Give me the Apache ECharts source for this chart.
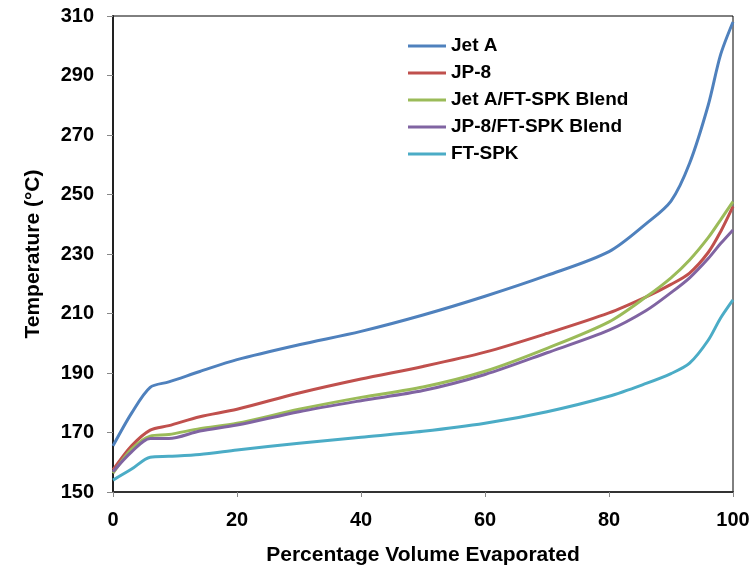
<!DOCTYPE html>
<html>
<head>
<meta charset="utf-8">
<script src="https://cdn.jsdelivr.net/npm/echarts@6/dist/echarts.min.js"></script>
<style>
  html, body { margin: 0; padding: 0; background: #fff; }
  #main { width: 752px; height: 566px; }
</style>
</head>
<body>
<div id="main"></div>
<script>
// percentage evaporated (x)
var pct = [0, 3, 6, 9, 14, 20, 30, 40, 50, 60, 70, 80, 86, 90, 93, 96, 98, 100];

// temperatures (°C)
var jetA      = [165.5, 176.5, 185.2, 187, 190.5, 194.5, 199.5, 204, 209.5, 215.8, 222.8, 230.8, 240.2, 247.8, 260.5, 280, 297, 308];
var jp8       = [157.4, 165.5, 170.8, 172.3, 175.3, 177.8, 183.3, 188, 192.2, 197, 203.3, 210.2, 215.6, 219.8, 223.6, 230.5, 237.5, 246];
var jetABlend = [156.3, 164.4, 168.8, 169.3, 171.3, 173.1, 177.8, 181.8, 185.3, 190.6, 198.3, 207.2, 215.6, 222, 228, 235.5, 241.5, 247.6];
var jp8Blend  = [156.8, 163.5, 168, 168, 170.5, 172.5, 177, 180.7, 184.1, 189.5, 196.8, 204.4, 211, 217, 222, 228.5, 233.5, 238.1];
var ftSpk     = [154, 157.7, 161.7, 162, 162.6, 164.1, 166.4, 168.4, 170.4, 173.1, 177, 182.2, 186.5, 189.8, 193.3, 201, 208.5, 214.6];

var names  = ['Jet A', 'JP-8', 'Jet A/FT-SPK Blend', 'JP-8/FT-SPK Blend', 'FT-SPK'];
var colors = ['#4F81BD', '#C0504D', '#9BBB59', '#8064A2', '#4BACC6'];
var values = [jetA, jp8, jetABlend, jp8Blend, ftSpk];

var font = '"Liberation Sans", Arial, sans-serif';

function pairs(ys) {
  return pct.map(function (x, i) { return [x, ys[i]]; });
}

var chart = echarts.init(document.getElementById('main'));

var option = {
  backgroundColor: '#fff',
  animation: false,
  grid: {
    left: 113, top: 16, right: 19, bottom: 74,
    outerBoundsMode: 'none',
    show: true, borderColor: '#000', borderWidth: 1
  },
  legend: {
    orient: 'vertical',
    left: 403, top: 31,
    icon: 'rect',
    itemWidth: 38, itemHeight: 3, itemGap: 7,
    data: names,
    textStyle: { fontFamily: font, fontWeight: 'bold', fontSize: 19, lineHeight: 20, color: '#000' }
  },
  xAxis: {
    type: 'value', min: 0, max: 100, interval: 20,
    name: 'Percentage Volume Evaporated',
    nameLocation: 'middle', nameGap: 53,
    nameTextStyle: { fontFamily: font, fontWeight: 'bold', fontSize: 21, color: '#000' },
    axisLine: { lineStyle: { color: '#333', width: 2 } },
    axisTick: { show: true, length: 5, lineStyle: { color: '#888' } },
    axisLabel: { fontFamily: font, fontWeight: 'bold', fontSize: 20, color: '#000', margin: 18 },
    splitLine: { show: false }
  },
  yAxis: {
    type: 'value', min: 150, max: 310, interval: 20,
    name: 'Temperature (\u00B0C)',
    nameLocation: 'middle', nameGap: 69, nameRotate: 90,
    nameTextStyle: { fontFamily: font, fontWeight: 'bold', fontSize: 21, color: '#000' },
    axisLine: { show: true, lineStyle: { color: '#222', width: 2 } },
    axisTick: { show: true, length: 6, lineStyle: { color: '#888' } },
    axisLabel: { fontFamily: font, fontWeight: 'bold', fontSize: 20, color: '#000', margin: 19 },
    splitLine: { show: false }
  },
  series: names.map(function (n, i) {
    return {
      name: n,
      type: 'line',
      data: pairs(values[i]),
      smooth: 0.3,
      symbol: 'none',
      lineStyle: { color: colors[i], width: 3 },
      itemStyle: { color: colors[i] }
    };
  })
};

chart.setOption(option);
</script>
</body>
</html>
